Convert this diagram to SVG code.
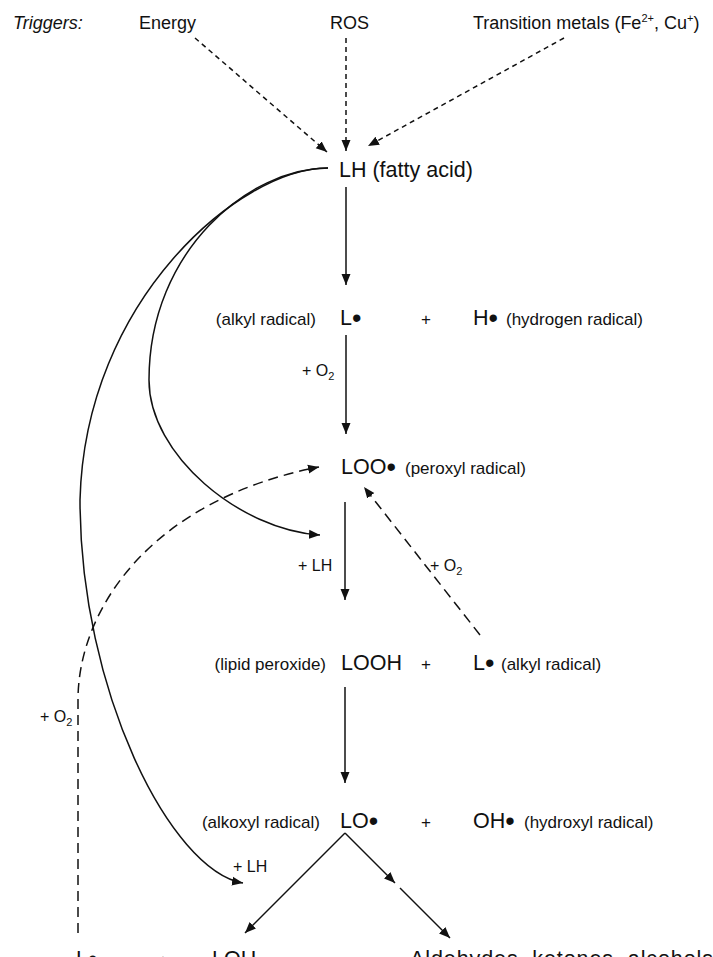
<svg xmlns="http://www.w3.org/2000/svg" width="713" height="957" viewBox="0 0 713 957">
<style>
text{font-family:"Liberation Sans",Arial,sans-serif;fill:#111}
.big{font-size:21.5px}
.dot{font-size:27px}
.sm{font-size:17px}
.tr{font-size:18px}
.lb{font-size:16px}
.ln{fill:none;stroke:#111;stroke-width:1.5}
.d1{stroke-dasharray:5 4}
.d2{stroke-dasharray:10 6}
</style>
<defs>
<marker id="ah" markerUnits="userSpaceOnUse" markerWidth="12" markerHeight="10" refX="11" refY="5" orient="auto">
<path d="M0,0.5 L11,5 L0,9.5 z" fill="#111"/>
</marker>
</defs>
<g id="triggers">
<text class="tr" x="13" y="29" font-style="italic">Triggers:</text>
<text class="tr" x="139" y="29">Energy</text>
<text class="tr" x="330" y="29">ROS</text>
<text class="tr" x="473" y="29">Transition metals (Fe<tspan font-size="11" dy="-7">2+</tspan><tspan dy="7">, Cu</tspan><tspan font-size="11" dy="-7">+</tspan><tspan dy="7">)</tspan></text>
</g>
<g id="lh"><text class="big" x="339" y="177" font-size="22">LH (fatty acid)</text></g>
<g id="row-l">
<text class="sm" x="316" y="325" text-anchor="end">(alkyl radical)</text>
<text class="big" x="340" y="325">L<tspan class="dot" dy="2">•</tspan></text>
<text class="sm" x="426" y="325" text-anchor="middle">+</text>
<text class="big" x="473" y="325">H<tspan class="dot" dy="2">•</tspan></text>
<text class="sm" x="506" y="325">(hydrogen radical)</text>
</g>
<g id="loo">
<text class="big" x="341" y="474">LOO<tspan class="dot" dy="2">•</tspan></text>
<text class="sm" x="405" y="474">(peroxyl radical)</text>
</g>
<g id="row-looh">
<text class="sm" x="326" y="670" text-anchor="end">(lipid peroxide)</text>
<text class="big" x="341" y="670">LOOH</text>
<text class="sm" x="426" y="670" text-anchor="middle">+</text>
<text class="big" x="473" y="670">L<tspan class="dot" dy="2">•</tspan></text>
<text class="sm" x="501" y="670">(alkyl radical)</text>
</g>
<g id="row-lo">
<text class="sm" x="320" y="828" text-anchor="end">(alkoxyl radical)</text>
<text class="big" x="340" y="828">LO<tspan class="dot" dy="2">•</tspan></text>
<text class="sm" x="426" y="828" text-anchor="middle">+</text>
<text class="big" x="473" y="828">OH<tspan class="dot" dy="2">•</tspan></text>
<text class="sm" x="524" y="828">(hydroxyl radical)</text>
</g>
<g id="row-bottom">
<text class="big" x="76" y="966">L<tspan class="dot" dy="2">•</tspan></text>
<text class="sm" x="163" y="966" text-anchor="middle">+</text>
<text class="big" x="212" y="966">LOH</text>
<text class="big" x="410" y="966" textLength="303" lengthAdjust="spacing">Aldehydes, ketones, alcohols</text>
</g>
<g id="connectors">
<path class="ln d1" d="M195,38 L327,152" marker-end="url(#ah)"/>
<path class="ln d1" d="M346,38 L346,151" marker-end="url(#ah)"/>
<path class="ln d1" d="M564,38 L368,146" marker-end="url(#ah)"/>
<path class="ln" d="M346,187 L346,285" marker-end="url(#ah)"/>
<path class="ln" d="M346,335 L346,434" marker-end="url(#ah)"/>
<path class="ln" d="M345,502 L345,600" marker-end="url(#ah)"/>
<path class="ln" d="M345,687 L345,783" marker-end="url(#ah)"/>
<path class="ln" d="M345,833 L245,933" marker-end="url(#ah)"/>
<path class="ln" d="M345,833 L395,883" marker-end="url(#ah)"/>
<path class="ln" d="M400,888 L450,938" marker-end="url(#ah)"/>
<path class="ln d2" d="M480,635 L364,487" marker-end="url(#ah)"/>
<path class="ln d2" d="M78,933 L78,700 C78,610 150,500 319,467" marker-end="url(#ah)"/>
<path class="ln" d="M328,168 C240,168 85,300 80,500 C80,690 170,870 243,883" marker-end="url(#ah)"/>
<path class="ln" d="M328,168 C250,168 149,250 149,380 C149,455 240,530 320,535" marker-end="url(#ah)"/>
</g>
<g id="labels">
<text class="lb" x="302" y="376">+ O<tspan font-size="11" dy="4">2</tspan></text>
<text class="lb" x="298" y="571">+ LH</text>
<text class="lb" x="430" y="571">+ O<tspan font-size="11" dy="4">2</tspan></text>
<text class="lb" x="40" y="722">+ O<tspan font-size="11" dy="4">2</tspan></text>
<text class="lb" x="233" y="872">+ LH</text>
</g>
</svg>
